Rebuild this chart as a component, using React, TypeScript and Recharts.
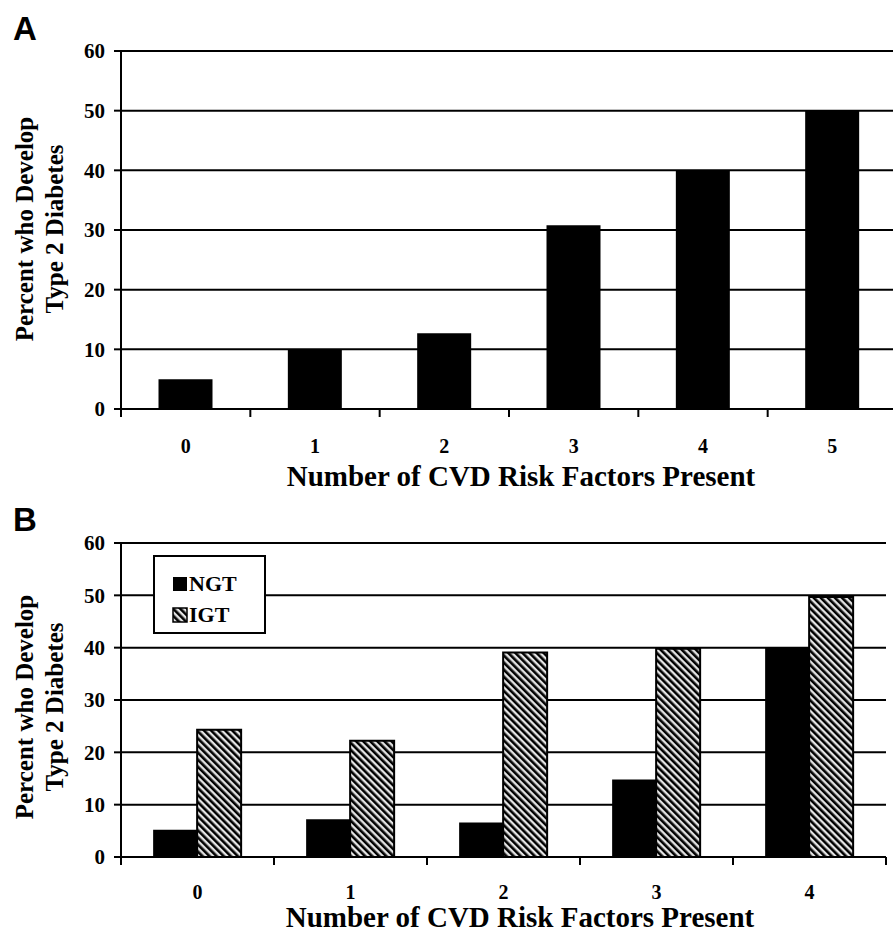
import React from "react";
import {
  BarChart,
  Bar,
  XAxis,
  YAxis,
  CartesianGrid,
  Legend,
} from "recharts";

// panel A: all subjects
const categoriesA = ["0", "1", "2", "3", "4", "5"];
const percentA = [5, 10, 12.7, 30.8, 40, 50];

// panel B: split by glucose tolerance
const categoriesB = ["0", "1", "2", "3", "4"];
const ngtB = [5.2, 7.2, 6.6, 14.8, 40];
const igtB = [24.3, 22.2, 39.1, 39.8, 49.7];

const yTicks = [0, 10, 20, 30, 40, 50, 60];
const xTitle = "Number of CVD Risk Factors Present";
const yTitle1 = "Percent who Develop";
const yTitle2 = "Type 2 Diabetes";

const SERIF = "'Liberation Serif', 'Times New Roman', serif";
const SANS = "'Liberation Sans', Arial, sans-serif";

const dataA = categoriesA.map((c, i) => ({ risk: c, pct: percentA[i] }));
const dataB = categoriesB.map((c, i) => ({ risk: c, NGT: ngtB[i], IGT: igtB[i] }));

// plot geometry
const Y_AXIS_W = 121;
const A_W = 905;
const A_RIGHT = 8;
const B_W = 893;
const B_RIGHT = 7;
const bandA = (A_W - A_RIGHT - Y_AXIS_W) / categoriesA.length;
const bandB = (B_W - B_RIGHT - Y_AXIS_W) / categoriesB.length;

const XTick = (props: any) => {
  const { x, y, payload, band, last, labelDy } = props;
  return (
    <g>
      <line x1={x - band / 2} x2={x - band / 2} y1={y} y2={y + 8} stroke="#000" strokeWidth={2} />
      {last && (
        <line x1={x + band / 2} x2={x + band / 2} y1={y} y2={y + 8} stroke="#000" strokeWidth={2} />
      )}
      <text
        x={x}
        y={y + labelDy}
        textAnchor="middle"
        fontFamily={SERIF}
        fontWeight={700}
        fontSize={20}
        fill="#000"
      >
        {payload.value}
      </text>
    </g>
  );
};

const yTickStyle = { fontSize: 21, fontWeight: 700, fill: "#000", fontFamily: SERIF };

const sideTitles = (letter: string, letterY: number, midY: number) => () => (
  <g>
    <text x={13} y={letterY} fontFamily={SANS} fontWeight={700} fontSize={33} fill="#000">
      {letter}
    </text>
    <text
      transform={`translate(33,${midY}) rotate(-90)`}
      textAnchor="middle"
      fontFamily={SERIF}
      fontWeight={700}
      fontSize={25}
      fill="#000"
    >
      {yTitle1}
    </text>
    <text
      transform={`translate(63,${midY}) rotate(-90)`}
      textAnchor="middle"
      fontFamily={SERIF}
      fontWeight={700}
      fontSize={25}
      fill="#000"
    >
      {yTitle2}
    </text>
  </g>
);

const bottomTitle = (cx: number, baseline: number) => () => (
  <text
    x={cx}
    y={baseline}
    textAnchor="middle"
    fontFamily={SERIF}
    fontWeight={700}
    fontSize={29}
    fill="#000"
  >
    {xTitle}
  </text>
);

const Hatch = ({ id }: { id: string }) => (
  <pattern id={id} patternUnits="userSpaceOnUse" width={5} height={5} patternTransform="rotate(-45)">
    <rect width={5} height={5} fill="#e4e4e4" />
    <rect x={0} y={0} width={2.6} height={5} fill="#000" />
  </pattern>
);

const LegendBox = () => (
  <svg width={113} height={79} style={{ display: "block" }}>
    <defs>
      <Hatch id="hatchLegend" />
    </defs>
    <rect x={1} y={1} width={111} height={77} fill="#fff" stroke="#000" strokeWidth={2} />
    <rect x={20} y={22} width={14} height={14} fill="#000" />
    <text x={36} y={36} fontFamily={SERIF} fontWeight={700} fontSize={22} fill="#000">
      NGT
    </text>
    <rect x={20} y={53} width={14} height={14} fill="url(#hatchLegend)" stroke="#000" strokeWidth={1.5} />
    <text x={36} y={67} fontFamily={SERIF} fontWeight={700} fontSize={22} fill="#000">
      IGT
    </text>
  </svg>
);

export default function App() {
  return (
    <div
      style={{
        position: "absolute",
        left: 0,
        top: 0,
        width: 893,
        height: 941,
        overflow: "hidden",
        background: "#fff",
      }}
    >
      <div style={{ position: "absolute", left: 0, top: 0 }}>
        <BarChart
          width={A_W}
          height={500}
          data={dataA}
          margin={{ top: 51, right: A_RIGHT, left: 0, bottom: 0 }}
          barCategoryGap="29%"
        >
          <CartesianGrid vertical={false} stroke="#000" strokeWidth={2} />
          <XAxis
            dataKey="risk"
            height={91}
            tickSize={0}
            tickMargin={0}
            axisLine={{ stroke: "#000", strokeWidth: 2 }}
            tickLine={false}
            interval={0}
            tick={(p: any) => (
              <XTick {...p} band={bandA} labelDy={44} last={p.index === categoriesA.length - 1} />
            )}
            label={bottomTitle(521, 486)}
          />
          <YAxis
            width={Y_AXIS_W}
            domain={[0, 60]}
            ticks={yTicks}
            interval={0}
            tickSize={7}
            tickMargin={9}
            axisLine={{ stroke: "#000", strokeWidth: 2 }}
            tickLine={{ stroke: "#000", strokeWidth: 2 }}
            tick={yTickStyle}
            label={sideTitles("A", 40, 229)}
          />
          <Bar dataKey="pct" fill="#000" isAnimationActive={false} />
        </BarChart>
      </div>

      <div style={{ position: "absolute", left: 0, top: 500 }}>
        <BarChart
          width={B_W}
          height={441}
          data={dataB}
          margin={{ top: 43, right: B_RIGHT, left: 0, bottom: 0 }}
          barCategoryGap="21%"
          barGap={0}
        >
          <defs>
            <Hatch id="hatchIGT" />
          </defs>
          <CartesianGrid vertical={false} stroke="#000" strokeWidth={2} />
          <XAxis
            dataKey="risk"
            height={84}
            tickSize={0}
            tickMargin={0}
            axisLine={{ stroke: "#000", strokeWidth: 2 }}
            tickLine={false}
            interval={0}
            tick={(p: any) => (
              <XTick {...p} band={bandB} labelDy={42} last={p.index === categoriesB.length - 1} />
            )}
            label={bottomTitle(520, 427)}
          />
          <YAxis
            width={Y_AXIS_W}
            domain={[0, 60]}
            ticks={yTicks}
            interval={0}
            tickSize={7}
            tickMargin={9}
            axisLine={{ stroke: "#000", strokeWidth: 2 }}
            tickLine={{ stroke: "#000", strokeWidth: 2 }}
            tick={yTickStyle}
            label={sideTitles("B", 31, 207)}
          />
          <YAxis
            yAxisId="edge"
            orientation="right"
            width={0}
            domain={[0, 60]}
            tick={false}
            tickLine={false}
            axisLine={{ stroke: "#000", strokeWidth: 2 }}
          />
          <Legend
            layout="vertical"
            align="center"
            verticalAlign="middle"
            content={() => <LegendBox />}
            wrapperStyle={{ position: "absolute", left: 153, top: 55, width: 113, height: 79 }}
          />
          <Bar dataKey="NGT" name="NGT" fill="#000" isAnimationActive={false} />
          <Bar
            dataKey="IGT"
            name="IGT"
            fill="url(#hatchIGT)"
            stroke="#000"
            strokeWidth={2}
            isAnimationActive={false}
          />
        </BarChart>
      </div>
    </div>
  );
}
